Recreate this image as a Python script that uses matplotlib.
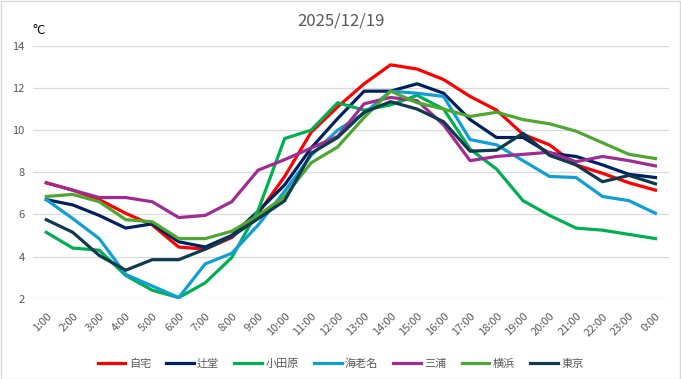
import numpy as np
import matplotlib
matplotlib.use("Agg")
import matplotlib.pyplot as plt
from matplotlib.patches import Rectangle

plt.rcParams['font.family'] = ['Noto Sans CJK JP', 'DejaVu Sans']

hours = ['1:00', '2:00', '3:00', '4:00', '5:00', '6:00', '7:00', '8:00',
         '9:00', '10:00', '11:00', '12:00', '13:00', '14:00', '15:00', '16:00',
         '17:00', '18:00', '19:00', '20:00', '21:00', '22:00', '23:00', '0:00']

jitaku = [7.5, 7.15, 6.7, 6.05, 5.5, 4.45, 4.35, 4.9, 6.05, 7.8, 9.9, 11.1,
          12.2, 13.1, 12.9, 12.4, 11.6, 10.95, 9.8, 9.3, 8.35, 7.95, 7.5, 7.15]
tsujido = [6.7, 6.45, 5.95, 5.35, 5.55, 4.7, 4.45, 5.0, 6.15, 7.4, 9.15, 10.55,
           11.85, 11.85, 12.2, 11.75, 10.5, 9.65, 9.65, 8.9, 8.75, 8.35, 7.9, 7.75]
odawara = [5.15, 4.4, 4.3, 3.1, 2.4, 2.05, 2.75, 3.95, 6.2, 9.6, 10.0, 11.3,
           10.95, 11.2, 11.65, 11.0, 9.1, 8.15, 6.65, 5.95, 5.35, 5.25, 5.05, 4.85]
ebina = [6.7, 5.8, 4.85, 3.15, 2.6, 2.05, 3.65, 4.15, 5.5, 7.1, 8.8, 10.0,
         10.8, 11.85, 11.75, 11.6, 9.55, 9.3, 8.55, 7.8, 7.75, 6.85, 6.65, 6.05]
miura = [7.5, 7.15, 6.8, 6.8, 6.6, 5.85, 5.95, 6.6, 8.1, 8.6, 9.15, 9.7,
         11.25, 11.55, 11.4, 10.25, 8.55, 8.75, 8.85, 8.95, 8.5, 8.75, 8.55, 8.3]
yokohama = [6.85, 6.95, 6.6, 5.75, 5.65, 4.85, 4.85, 5.2, 5.95, 6.85, 8.45, 9.2,
            10.6, 11.85, 11.3, 11.0, 10.65, 10.85, 10.5, 10.3, 9.95, 9.4, 8.85, 8.65]
tokyo = [5.75, 5.15, 4.05, 3.35, 3.85, 3.85, 4.35, 4.95, 5.8, 6.65, 8.9, 9.65,
         10.85, 11.35, 11.0, 10.4, 9.0, 9.05, 9.85, 8.8, 8.35, 7.55, 7.85, 7.45]

names = ['自宅', '辻堂', '小田原', '海老名', '三浦', '横浜', '東京']
series = [jitaku, tsujido, odawara, ebina, miura, yokohama, tokyo]
colors = ['#FF0000', '#002060', '#00B050', '#0F9ED5', '#A02B93', '#4EA72E', '#0E3A4E']

fig = plt.figure(figsize=(6.81, 3.79), dpi=100)
ax = fig.add_axes([0.0485, 0.212, 0.9335, 0.667])

x = np.arange(len(hours))
for name, vals, c in zip(names, series, colors):
    ax.plot(x, vals, color=c, lw=2.3, label=name, solid_joinstyle='round')

ax.set_xlim(-0.5, len(hours) - 0.5)
ax.set_ylim(2, 14)
ax.set_yticks(np.arange(2, 15, 2))
ax.set_xticks(x)
ax.set_xticklabels(hours, rotation=45, ha='right', va='top', rotation_mode='anchor')
ax.grid(axis='y', color='#D9D9D9', lw=0.9)
ax.set_axisbelow(True)
for s in ax.spines.values():
    s.set_visible(False)
ax.tick_params(length=0, labelsize=8, colors='#595959')
ax.tick_params(axis='y', pad=6)
ax.tick_params(axis='x', pad=9)

fig.text(0.5, 0.945, '2025/12/19', ha='center', va='center', fontsize=12, color='#595959')
fig.text(0.047, 0.92, '°C', ha='left', va='center', fontsize=9.5, color='black')

fig.legend(loc='lower center', bbox_to_anchor=(0.5, 0.0), ncol=7, frameon=False,
           fontsize=8, labelcolor='#595959', handlelength=2.5, handletextpad=0.3,
           columnspacing=1.35)

fig.patches.append(Rectangle((0.001, 0.001), 0.997, 0.997, transform=fig.transFigure,
                             fill=False, edgecolor='#D9D9D9', lw=1))

fig.savefig('out.png', dpi=100)
